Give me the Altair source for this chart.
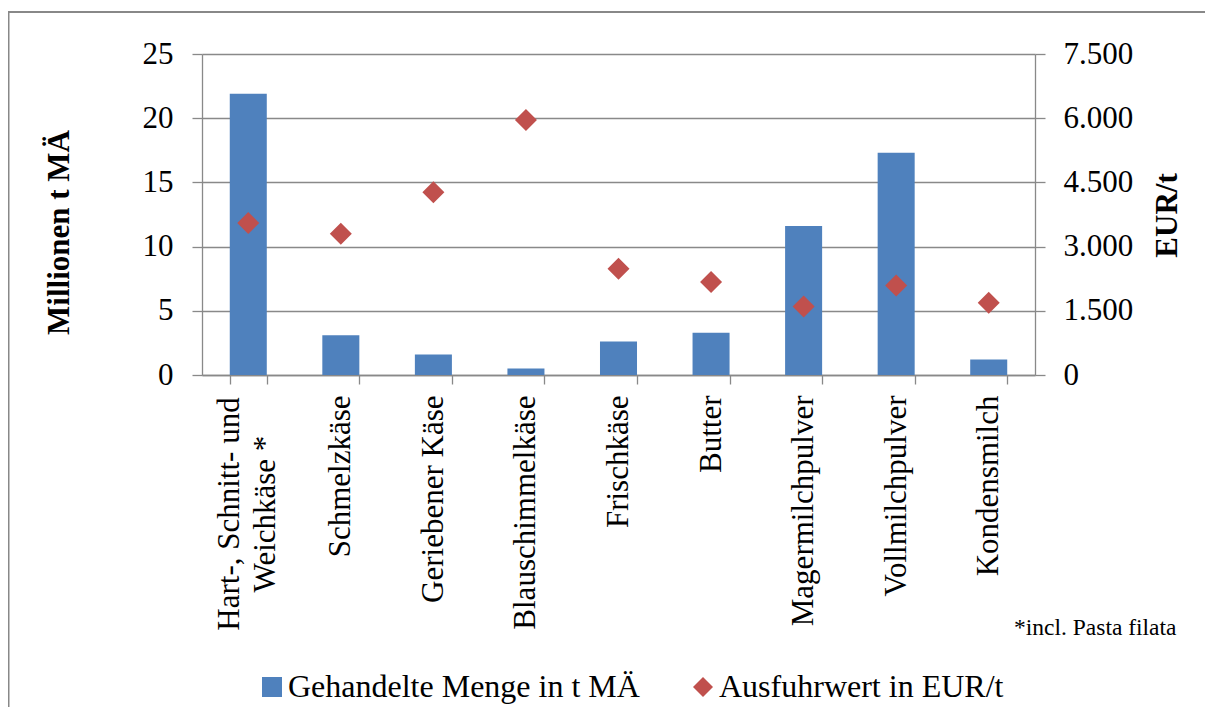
import altair as alt
import pandas as pd

categories = [
    "Hart-, Schnitt- und\nWeichkäse *",
    "Schmelzkäse",
    "Geriebener Käse",
    "Blauschimmelkäse",
    "Frischkäse",
    "Butter",
    "Magermilchpulver",
    "Vollmilchpulver",
    "Kondensmilch",
]
menge = [21.9, 3.1, 1.6, 0.5, 2.6, 3.3, 11.6, 17.3, 1.2]
wert = [3550, 3300, 4270, 5960, 2480, 2170, 1600, 2090, 1690]
series = ["Gehandelte Menge in t MÄ", "Ausfuhrwert in EUR/t"]
left_ticks = [0, 5, 10, 15, 20, 25]
right_ticks = [0, 1500, 3000, 4500, 6000, 7500]
footnote = "*incl. Pasta filata"

FONT = "Liberation Serif"
BLUE = "#4F81BD"
RED = "#C0504D"
GRAY = "#898989"

df_bar = pd.DataFrame({"cat": categories, "menge": menge, "series": series[0]})
df_pt = pd.DataFrame({"cat": categories, "wert": wert, "series": series[1]})

xenc = alt.X(
    "cat:N",
    sort=categories,
    scale=alt.Scale(paddingInner=0.6, paddingOuter=0.3),
    axis=alt.Axis(
        title=None,
        labelAngle=270,
        labelAlign="right",
        labelBaseline="middle",
        labelExpr="indexof(datum.label, '\\n') >= 0 ? '' : datum.label",
        labelLimit=500,
        labelPadding=11,
        tickBand="extent",
        tickSize=9,
        grid=False,
    ),
)


def make_legend():
    return alt.Legend(
        title=None,
        orient="none",
        direction="horizontal",
        legendX=54,
        legendY=617,
        symbolSize=400,
        labelFont=FONT,
        labelFontSize=32,
        labelColor="black",
        labelLimit=600,
        labelOffset=0,
        columnPadding=47,
        padding=0,
    )


color = alt.Color(
    "series:N",
    scale=alt.Scale(domain=series, range=[BLUE, RED]),
    legend=make_legend(),
)
shape = alt.Shape(
    "series:N",
    scale=alt.Scale(domain=series, range=["square", "diamond"]),
    legend=make_legend(),
)

bars = alt.Chart(df_bar).mark_bar(color=BLUE).encode(
    x=xenc,
    y=alt.Y(
        "menge:Q",
        scale=alt.Scale(domain=[0, 25], nice=False),
        axis=alt.Axis(
            values=left_ticks,
            title="Millionen t MÄ",
            titleX=-142.5,
            titleY=178,
            titleAngle=270,
            titleAlign="center",
            titleBaseline="middle",
            tickSize=10,
            labelPadding=19,
            grid=True,
        ),
    ),
    color=color,
)

points = alt.Chart(df_pt).mark_point(filled=True, opacity=1, size=484).encode(
    x=xenc,
    y=alt.Y(
        "wert:Q",
        scale=alt.Scale(domain=[0, 7500], nice=False),
        axis=alt.Axis(
            orient="right",
            values=right_ticks,
            labelExpr="replace(format(datum.value, ','), ',', '.')",
            title="EUR/t",
            titleX=132,
            titleY=161,
            titleAngle=270,
            titleAlign="center",
            titleBaseline="middle",
            tickSize=10,
            labelPadding=18,
            grid=False,
        ),
    ),
    color=color,
    shape=shape,
)

# two-line category label, drawn as text through the x scale
multi_label = (
    alt.Chart(df_bar)
    .transform_filter("indexof(datum.cat, '\\n') >= 0")
    .mark_text(
        font=FONT,
        fontSize=31,
        color="black",
        angle=270,
        align="center",
        baseline="middle",
        lineBreak="\n",
        lineHeight=36,
        dy=-18,
    )
    .encode(x=alt.X("cat:N", sort=categories), y=alt.value(460), text="cat:N")
)

one = pd.DataFrame({"a": [0]})
border_left = alt.Chart(one).mark_rule(color="#888888", strokeWidth=2).encode(
    x=alt.value(-193.5), y=alt.value(-42), y2=alt.value(700)
)
border_top = alt.Chart(one).mark_rule(color="#888888", strokeWidth=2).encode(
    x=alt.value(-194), x2=alt.value(1100), y=alt.value(-42)
)
note = alt.Chart(one).mark_text(
    text=footnote, font=FONT, fontSize=23.5, align="left", baseline="alphabetic", color="black"
).encode(x=alt.value(812), y=alt.value(581))

chart = (
    alt.layer(bars, points, multi_label, border_left, border_top, note)
    .resolve_scale(y="independent")
    .properties(
        width=833,
        height=321,
        autosize=alt.AutoSizeParams(type="none"),
        padding={"left": 194, "top": 46, "right": 170, "bottom": 332},
        background="white",
    )
    .configure_view(stroke=None)
    .configure_axis(
        labelFont=FONT,
        labelFontSize=31,
        labelColor="black",
        titleFont=FONT,
        titleFontSize=31,
        titleFontWeight="bold",
        titleColor="black",
        domainColor=GRAY,
        domainWidth=1.3,
        tickColor=GRAY,
        tickWidth=1.3,
        gridColor=GRAY,
        gridWidth=1.3,
        gridOpacity=1,
    )
)

chart.save("out.html", embed_options={"renderer": "svg", "actions": False})
